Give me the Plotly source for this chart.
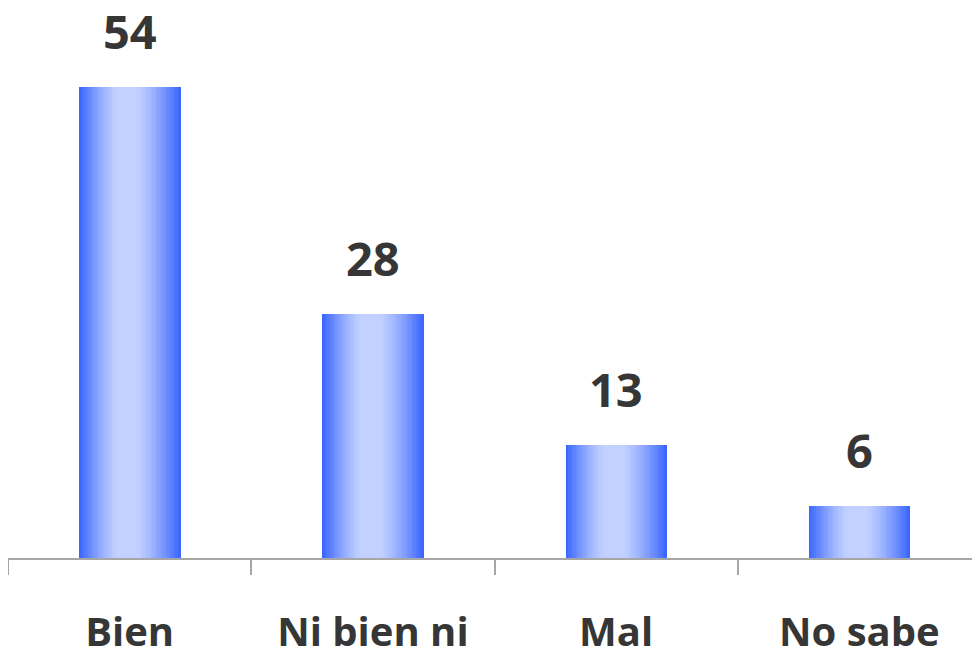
import plotly.graph_objects as go

categories = ["Bien", "Ni bien ni", "Mal", "No sabe"]
values = [54, 28, 13, 6]

EDGE = (56, 100, 255)
LIGHT = (194, 209, 255)
N_SLICES = 40
BAR_W = 0.415

def shade(t):
    # horizontal gradient: blue edges, light centre (centre slightly left)
    c = 0.47
    d = abs(t - c) / (c if t < c else 1 - c)
    if d < 0.18:
        f = 1.0
    else:
        f = max(0.0, 1 - ((d - 0.18) / 0.82) ** 1.3)
    r = [round(EDGE[k] + (LIGHT[k] - EDGE[k]) * f) for k in range(3)]
    return f"rgb({r[0]},{r[1]},{r[2]})"

fig = go.Figure()
w = BAR_W / N_SLICES
for i in range(N_SLICES):
    t = (i + 0.5) / N_SLICES
    fig.add_trace(go.Bar(
        x=categories, y=values,
        width=w * 1.25, offset=-BAR_W / 2 + i * w,
        marker=dict(color=shade(t), line=dict(width=0)),
        showlegend=False, hoverinfo="skip" if i else "x+y",
    ))

for c, v in zip(categories, values):
    fig.add_annotation(
        x=c, y=v, text=f"<b>{v}</b>", showarrow=False,
        yanchor="bottom", yshift=22,
        font=dict(family="Open Sans", size=47, color="#363636"),
    )

fig.update_layout(
    width=980, height=652,
    margin=dict(l=0, r=7, t=0, b=102),
    paper_bgcolor="white", plot_bgcolor="white",
    barmode="overlay", bargap=0,
    font=dict(family="Open Sans", color="#363636"),
)
fig.update_xaxes(
    type="category", showline=True, linecolor="#a6a6a6", linewidth=2,
    ticks="outside", ticklen=15, tickwidth=2, tickcolor="#a6a6a6",
    tickson="boundaries", showgrid=False,
    tickfont=dict(family="Open Sans", size=40, color="#363636", weight="bold"),
    ticklabelstandoff=38,
    range=[-0.5, 3.5],
)
fig.update_yaxes(range=[0, 63.05], visible=False, showgrid=False)

fig.write_html("out.html")
